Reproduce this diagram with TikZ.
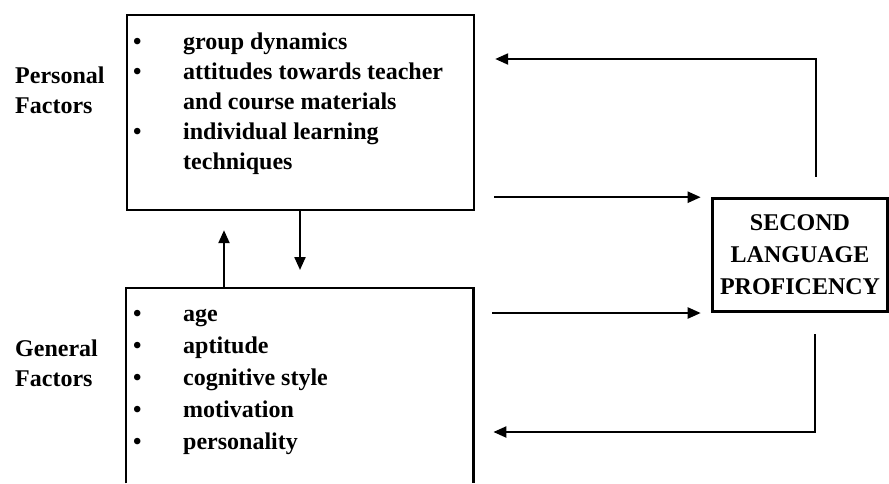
\documentclass[tikz,border=0pt]{standalone}
\usepackage{fontspec}
\setmainfont{Liberation Serif}
\usetikzlibrary{arrows.meta,positioning,calc}

\tikzset{
  factorbox/.style={minimum width=347pt,minimum height=195pt,inner sep=0pt,anchor=north west},
  itemlist/.style={align=left,inner sep=0pt,anchor=base west,font=\bfseries\fontsize{24}{#1}\selectfont},
  factorlabel/.style={align=left,inner sep=0pt,anchor=west,font=\bfseries\fontsize{24}{30}\selectfont},
  flow/.style={line width=2.2pt,-{Triangle[length=13pt,width=11pt]}}
}
\newcommand{\itm}{\makebox[50pt][l]{\textbullet}}
\newcommand{\cont}{\hspace*{50pt}}

\begin{document}
\begin{tikzpicture}[x=1pt,y=-1pt]
\useasboundingbox (0,0) rectangle (889,483);
% the two factor boxes
\node[factorbox,draw,line width=2.2pt] (pers) at (126,14) {};
\node[factorbox] (gen) at (126,288) {};
\draw[line width=2.2pt] (gen.south west) -- (gen.north west) -- (gen.north east) -- (gen.south east);
% lists, placed by the baseline of their last line
\node[itemlist=30] (perslist) at (133,169)
{\itm group dynamics\\
 \itm attitudes towards teacher\\
 \cont and course materials\\
 \itm individual learning\\
 \cont techniques};
\node[itemlist=32] (genlist) at (133,449)
{\itm age\\
 \itm aptitude\\
 \itm cognitive style\\
 \itm motivation\\
 \itm personality};
\node[factorlabel] (perslab) at (15,90) {Personal\\Factors};
\node[factorlabel] (genlab) at (15,363) {General\\Factors};
% outcome
\node[draw,line width=3.6pt,minimum width=175pt,minimum height=113pt,inner sep=0pt,align=center,
  font=\bfseries\fontsize{24}{32}\selectfont] (slp) at (800,255) {SECOND\\LANGUAGE\\PROFICENCY};
% arrow ends
\coordinate (persout) at ([shift={(19pt,14pt)}]pers.south east);
\coordinate (genout) at ([shift={(19pt,-25pt)}]gen.north east);
\coordinate (fbup) at ([shift={(16pt,20pt)}]slp.north);
\coordinate (fbupend) at ([shift={(20pt,-45pt)}]pers.north east);
\coordinate (fbdown) at ([shift={(15pt,-21pt)}]slp.south);
\coordinate (fbdownend) at ([shift={(20pt,-144pt)}]gen.north east);
\draw[flow,shorten >=10pt] (persout) -- (persout -| slp.west);
\draw[flow,shorten >=10pt] (genout) -- (genout -| slp.west);
\draw[flow] (fbup) |- (fbupend);
\draw[flow] (fbdown) |- (fbdownend);
\draw[flow,shorten >=19pt] ([xshift=98pt]gen.north west) -- ([xshift=98pt]pers.south west);
\draw[flow,shorten >=18pt] ([xshift=174pt]pers.south west) -- ([xshift=174pt]gen.north west);
\end{tikzpicture}
\end{document}
